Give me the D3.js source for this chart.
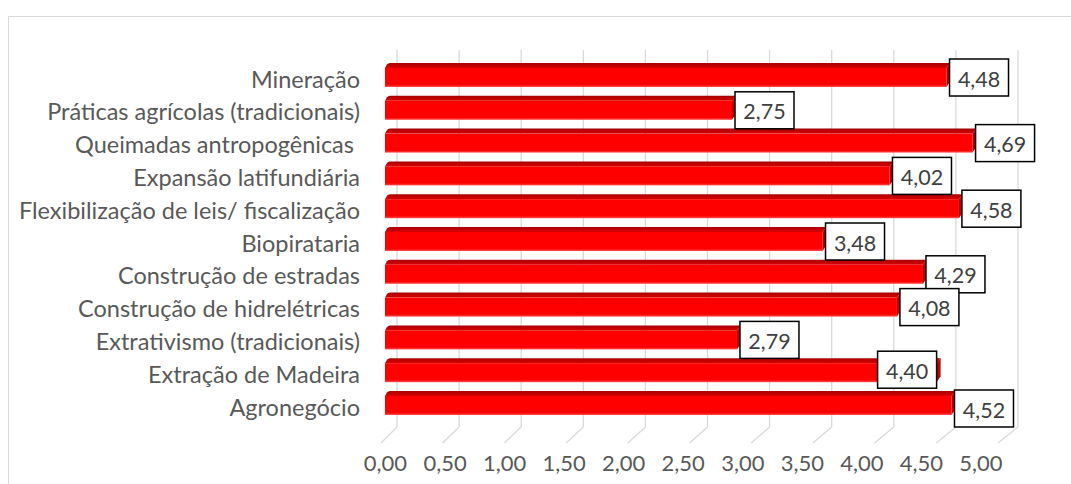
<!DOCTYPE html>
<html>
<head>
<meta charset="utf-8">
<script src="https://cdn.jsdelivr.net/npm/d3@7"></script>
<style>
  html, body { margin: 0; padding: 0; background: #fff; }
  svg { display: block; }
  text { font-family: Lato, "Open Sans", sans-serif; }
</style>
</head>
<body>
<svg id="chart" width="1071" height="484"></svg>
<script>
// Fatores de pressão (média das respostas), de cima para baixo
const categories = [
  "Mineração",
  "Práticas agrícolas (tradicionais)",
  "Queimadas antropogênicas ",
  "Expansão latifundiária",
  "Flexibilização de leis/ fiscalização",
  "Biopirataria",
  "Construção de estradas",
  "Construção de hidrelétricas",
  "Extrativismo (tradicionais)",
  "Extração de Madeira",
  "Agronegócio"
];
const values = [4.48, 2.75, 4.69, 4.02, 4.58, 3.48, 4.29, 4.08, 2.79, 4.40, 4.52];
const tickValues = [0, 0.5, 1, 1.5, 2, 2.5, 3, 3.5, 4, 4.5, 5];

const fmt = v => d3.format(".2f")(v).replace(".", ",");

const svg = d3.select("#chart");

// chart frame (only the top/left edges fall inside the view)
svg.append("path")
  .attr("d", "M8.5,484 L8.5,16.5 L1071,16.5")
  .attr("fill", "none")
  .attr("stroke", "#d9d9d9")
  .attr("stroke-width", 1);

// 3D box geometry
const depthX = 4, depthY = 5;             // offset of the bar top face
const wallTop = 50, wallBottom = 427, floorFront = 443;

// value scales: back wall, floor front edge, bars, tick labels
const xWall  = d3.scaleLinear().domain([0, 5]).range([397, 1018]);
const xFloor = d3.scaleLinear().domain([0, 5]).range([381, 998]);
const xBar   = d3.scaleLinear().domain([0, 5]).range([391, 1011]);
const xTick  = d3.scaleLinear().domain([0, 5]).range([385.5, 981]);
const barLeft = 385;

const y = d3.scaleBand()
  .domain(categories)
  .range([61.1, 421.9])
  .paddingInner(0.42)
  .paddingOuter(0.21);

// back wall gridlines
svg.append("g").selectAll("line")
  .data(tickValues)
  .join("line")
  .attr("x1", d => xWall(d)).attr("x2", d => xWall(d))
  .attr("y1", wallTop).attr("y2", wallBottom)
  .attr("stroke", "#d9d9d9")
  .attr("stroke-width", 1.3);

// floor gridlines running toward the viewer
svg.append("g").selectAll("line")
  .data(tickValues)
  .join("line")
  .attr("x1", d => xWall(d)).attr("y1", wallBottom)
  .attr("x2", d => xFloor(d)).attr("y2", floorFront)
  .attr("stroke", "#d9d9d9")
  .attr("stroke-width", 1.3);

// tick labels
svg.append("g").selectAll("text")
  .data(tickValues)
  .join("text")
  .attr("x", d => xTick(d))
  .attr("y", 462)
  .attr("text-anchor", "middle")
  .attr("dominant-baseline", "central")
  .attr("font-size", 22)
  .attr("fill", "#595959")
  .text(d => fmt(d));

// gradients for the bar faces
const defs = svg.append("defs");
const topGrad = defs.append("linearGradient")
  .attr("id", "topFace").attr("x1", 0).attr("y1", 0).attr("x2", 0).attr("y2", 1);
topGrad.append("stop").attr("offset", "0%").attr("stop-color", "#a80000");
topGrad.append("stop").attr("offset", "100%").attr("stop-color", "#d80000");
const frontGrad = defs.append("linearGradient")
  .attr("id", "frontFace").attr("x1", 0).attr("y1", 0).attr("x2", 0).attr("y2", 1);
frontGrad.append("stop").attr("offset", "0%").attr("stop-color", "#ff0000");
frontGrad.append("stop").attr("offset", "88%").attr("stop-color", "#ff0000");
frontGrad.append("stop").attr("offset", "100%").attr("stop-color", "#ff5050");

const rows = categories.map((c, i) => ({ c, v: values[i] }));

// bars
const bars = svg.append("g").selectAll("g")
  .data(rows)
  .join("g");

bars.append("path")          // top face
  .attr("d", d => {
    const y0 = y(d.c), x1 = xBar(d.v);
    return `M${barLeft},${y0} L${barLeft + 2},${y0 - depthY + 1.5} Q${barLeft + 3},${y0 - depthY} ${barLeft + depthX + 1},${y0 - depthY}
            L${x1 + depthX},${y0 - depthY} L${x1},${y0} Z`;
  })
  .attr("fill", "url(#topFace)");

bars.append("rect")          // front face
  .attr("x", barLeft)
  .attr("y", d => y(d.c))
  .attr("width", d => xBar(d.v) - barLeft)
  .attr("height", y.bandwidth())
  .attr("fill", "url(#frontFace)");

bars.append("path")          // end face
  .attr("d", d => {
    const y0 = y(d.c), x1 = xBar(d.v), h = y.bandwidth();
    return `M${x1},${y0} L${x1 + depthX},${y0 - depthY} L${x1 + depthX},${y0 + h - depthY - 1} L${x1},${y0 + h} Z`;
  })
  .attr("fill", "#c00000");

// category labels
svg.append("g").selectAll("text")
  .data(rows)
  .join("text")
  .attr("x", 360)
  .attr("y", d => y(d.c) + y.bandwidth() / 2 + 1)
  .attr("text-anchor", "end")
  .attr("dominant-baseline", "central")
  .attr("font-size", 23.5)
  .attr("fill", "#595959")
  .attr("xml:space", "preserve")
  .style("white-space", "pre")
  .text(d => d.c);

// value labels in bordered boxes (one was dragged left onto its bar)
const labelNudge = { "Extração de Madeira": [-62, -3], "Agronegócio": [0, 3] };
const boxW = 59, boxH = 37;
const labels = svg.append("g").selectAll("g")
  .data(rows)
  .join("g")
  .attr("transform", d => {
    const [nx, ny] = labelNudge[d.c] || [0, 0];
    const cx = xBar(d.v) + 3 + boxW / 2 + nx;
    const cy = y(d.c) + y.bandwidth() / 2 + ny;
    return `translate(${cx},${cy})`;
  });

labels.append("rect")
  .attr("x", -boxW / 2).attr("y", -boxH / 2)
  .attr("width", boxW).attr("height", boxH)
  .attr("fill", "#fff")
  .attr("stroke", "#000")
  .attr("stroke-width", 1.5);

labels.append("text")
  .attr("text-anchor", "middle")
  .attr("dominant-baseline", "central")
  .attr("y", 1)
  .attr("font-size", 21.5)
  .attr("fill", "#404040")
  .text(d => fmt(d.v));
</script>
</body>
</html>
